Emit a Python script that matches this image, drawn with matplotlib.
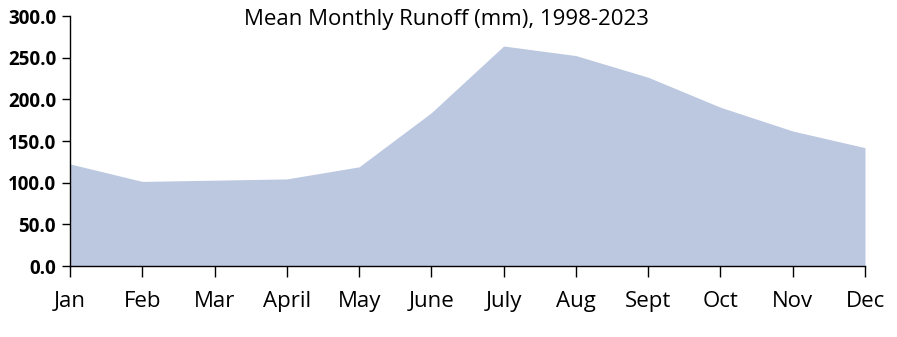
import matplotlib
matplotlib.use('Agg')
import matplotlib.pyplot as plt

months = ['Jan', 'Feb', 'Mar', 'April', 'May', 'June', 'July', 'Aug', 'Sept', 'Oct', 'Nov', 'Dec']
runoff = [122.5, 101.5, 103.0, 104.5, 119.0, 184.0, 264.0, 252.5, 226.5, 190.5, 162.0, 142.0]
yticks = [0, 50, 100, 150, 200, 250, 300]

plt.rcParams['font.family'] = ['Open Sans', 'DejaVu Sans']

fig = plt.figure(figsize=(8.97, 3.37), dpi=100)
ax = fig.add_axes([70/897, 71/337, 795/897, 250/337])

x = list(range(len(months)))
ax.fill_between(x, 0, runoff, color='#bcc8e0', linewidth=0)

ax.set_xlim(0, len(months) - 1)
ax.set_ylim(0, 300)
ax.set_xticks(x)
ax.set_xticklabels(months, fontsize=16)
ax.set_yticks(yticks)
ax.set_yticklabels(['%.1f' % v for v in yticks], fontsize=13.5, fontweight='bold')

for s in ['top', 'right']:
    ax.spines[s].set_visible(False)
for s in ['left', 'bottom']:
    ax.spines[s].set_linewidth(1)
    ax.spines[s].set_color('black')
ax.tick_params(axis='x', direction='out', length=8, width=1, pad=10)
ax.tick_params(axis='y', direction='out', length=6, width=1, pad=4)

fig.text(446/897, 1 - 20/337, 'Mean Monthly Runoff (mm), 1998-2023', ha='center', va='center', fontsize=16)

fig.savefig('out.png', dpi=100)
